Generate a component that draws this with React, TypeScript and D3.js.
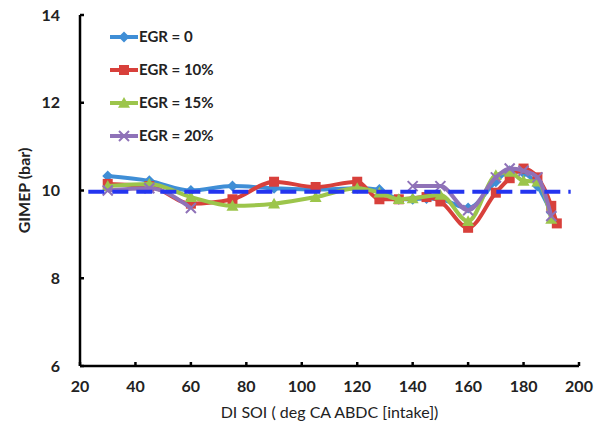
import React from "react";
import * as d3 from "d3";

const xTicks = [20, 40, 60, 80, 100, 120, 140, 160, 180, 200];
const yTicks = [6, 8, 10, 12, 14];
const refValue = 9.97;

type P = { x: number; y: number | null };

const egr0X = [30, 45, 60, 75, 90, 105, 120, 128, 135, 140, 145, 150, 160, 170, 175, 180, 185, 190];
const egr0Y = [10.33, 10.22, 10.0, 10.1, 10.05, 10.02, 10.05, 10.02, 9.8, 9.8, 9.82, 9.8, 9.6, 10.2, 10.45, 10.4, 10.1, 9.5];

const egr10X = [30, 45, 60, 75, 90, 105, 120, 128, 135, 145, 150, 160, 170, 175, 180, 185, 190, 192];
const egr10Y = [10.15, 10.1, 9.7, 9.8, 10.2, 10.08, 10.2, 9.8, 9.8, 9.85, 9.75, 9.15, 9.95, 10.28, 10.5, 10.3, 9.65, 9.25];

const egr15X = [30, 45, 60, 75, 90, 105, 120, 128, 135, 140, 150, 160, 170, 175, 180, 185, 190];
const egr15Y = [10.1, 10.15, 9.85, 9.65, 9.7, 9.85, 10.05, 9.95, 9.8, 9.82, 9.9, 9.3, 10.35, 10.42, 10.22, 10.2, 9.35];

const egr20X = [30, 45, 60, 140, 150, 160, 170, 175, 180, 185, 190];
const egr20Y = [10.0, 10.05, 9.6, 10.1, 10.1, 9.55, 10.3, 10.5, 10.45, 10.3, 9.42];
const egr20Break = [false, false, true, false, false, false, false, false, false, false, false];

const seriesNames = ["EGR = 0", "EGR = 10%", "EGR = 15%", "EGR = 20%"];
const colors = ["#3f8ed6", "#d8403b", "#9cc54b", "#8f72b8"];

const W = 603, H = 432;
const x = d3.scaleLinear().domain([20, 200]).range([80, 579]);
const y = d3.scaleLinear().domain([6, 14]).range([366, 15]);

function toPts(xs: number[], ys: number[], brk?: boolean[]): P[] {
  const out: P[] = [];
  xs.forEach((xv, i) => {
    out.push({ x: xv, y: ys[i] });
    if (brk && brk[i]) out.push({ x: (xv + xs[i + 1]) / 2, y: null });
  });
  return out;
}

const series = [
  toPts(egr0X, egr0Y),
  toPts(egr10X, egr10Y),
  toPts(egr15X, egr15Y),
  toPts(egr20X, egr20Y, egr20Break),
];

const line = d3
  .line<P>()
  .defined((d) => d.y !== null)
  .x((d) => x(d.x))
  .y((d) => y(d.y as number))
  .curve(d3.curveMonotoneX);

function Marker({ kind, cx, cy, color }: { kind: number; cx: number; cy: number; color: string }) {
  if (kind === 0) {
    const s = 5.5;
    return <path d={`M${cx},${cy - s}L${cx + s},${cy}L${cx},${cy + s}L${cx - s},${cy}Z`} fill={color} />;
  }
  if (kind === 1) {
    const s = 5;
    return <rect x={cx - s} y={cy - s} width={2 * s} height={2 * s} fill={color} />;
  }
  if (kind === 2) {
    const s = 6;
    return <path d={`M${cx},${cy - s}L${cx + s},${cy + s * 0.8}L${cx - s},${cy + s * 0.8}Z`} fill={color} />;
  }
  const s = 5;
  return (
    <path
      d={`M${cx - s},${cy - s}L${cx + s},${cy + s}M${cx - s},${cy + s}L${cx + s},${cy - s}`}
      stroke={color}
      strokeWidth={2}
    />
  );
}

export default function App() {
  const font = "Lato, 'Open Sans', sans-serif";
  return (
    <svg
      width={W}
      height={H}
      style={{ position: "absolute", left: 0, top: 0, background: "#fff" }}
      fontFamily={font}
    >
      <rect width={W} height={H} fill="#fff" />
      {/* axes */}
      <line x1={x(20)} x2={x(20)} y1={y(14)} y2={y(6)} stroke="#000" strokeWidth={2.5} />
      <line x1={x(20)} x2={x(200)} y1={y(6)} y2={y(6)} stroke="#000" strokeWidth={2.5} />
      {yTicks.map((t) => (
        <g key={"y" + t}>
          <line x1={x(20)} x2={x(20) + 4} y1={y(t)} y2={y(t)} stroke="#000" strokeWidth={2.5} />
          <text x={60} y={y(t)} dy="0.35em" textAnchor="end" fontSize={16} fontWeight="bold" fill="#222">
            {t}
          </text>
        </g>
      ))}
      {xTicks.map((t) => (
        <g key={"x" + t}>
          <line x1={x(t)} x2={x(t)} y1={y(6)} y2={y(6) - 4} stroke="#000" strokeWidth={2.5} />
          <text x={x(t)} y={392} textAnchor="middle" fontSize={16} fontWeight="bold" fill="#222">
            {t}
          </text>
        </g>
      ))}
      <text
        transform={`translate(30,${y(10)}) rotate(-90)`}
        textAnchor="middle"
        fontSize={16}
        fontWeight="bold"
        fill="#222"
      >
        GIMEP (bar)
      </text>
      <text x={(x(20) + x(200)) / 2} y={418} textAnchor="middle" fontSize={16} fill="#222">
        DI SOI ( deg CA ABDC [intake])
      </text>

      {/* series */}
      {series.map((pts, i) => (
        <g key={"s" + i}>
          <path d={line(pts) || ""} fill="none" stroke={colors[i]} strokeWidth={4} strokeLinejoin="round" />
          {pts
            .filter((p) => p.y !== null)
            .map((p, j) => (
              <Marker key={j} kind={i} cx={x(p.x)} cy={y(p.y as number)} color={colors[i]} />
            ))}
        </g>
      ))}

      {/* reference dashed line */}
      <line
        x1={x(23)}
        x2={x(197)}
        y1={y(refValue)}
        y2={y(refValue)}
        stroke="#2435f0"
        strokeWidth={4}
        strokeDasharray="16 8"
      />

      {/* legend */}
      {seriesNames.map((name, i) => {
        const ly = 37 + i * 33;
        return (
          <g key={"l" + i}>
            <line x1={110} x2={138} y1={ly} y2={ly} stroke={colors[i]} strokeWidth={4} />
            <Marker kind={i} cx={124} cy={ly} color={colors[i]} />
            <text x={139} y={ly} dy="0.35em" fontSize={15} fontWeight="bold" fill="#222">
              {name}
            </text>
          </g>
        );
      })}
    </svg>
  );
}
